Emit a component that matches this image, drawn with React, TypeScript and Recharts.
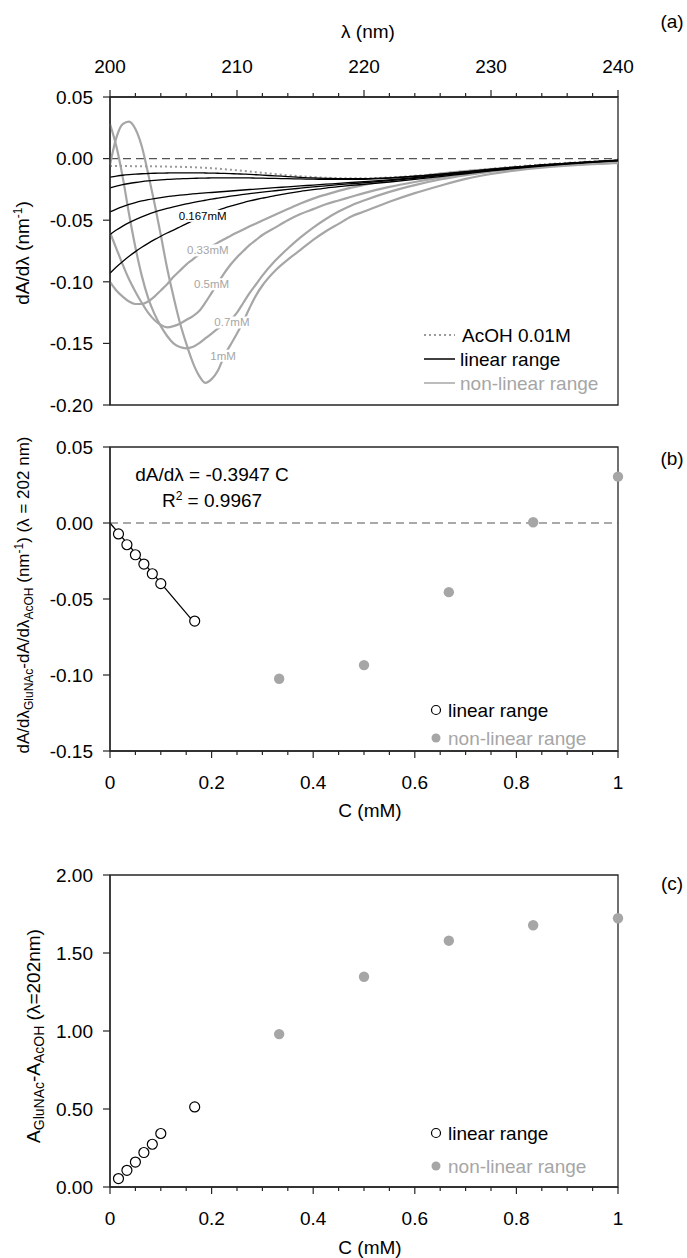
import React from 'react';
import {
  ComposedChart,
  Line,
  Scatter,
  XAxis,
  YAxis,
  ReferenceLine,
  ReferenceArea,
  Legend,
  Label,
} from 'recharts';

const FONT = '"Liberation Sans", Arial, Helvetica, sans-serif';
const GREY = '#a6a6a6';
const AXIS = '#262626';

// ---------- Panel (a): first-derivative spectra ----------
const lambdaNm = [
  200, 200.5, 201, 201.5, 202, 202.5, 203, 203.5, 204, 204.5, 205, 205.5, 206, 206.5, 207, 207.5, 208,
  208.5, 209, 209.5, 210, 210.5, 211, 211.5, 212, 213, 214, 215, 216, 217, 218, 219, 220, 222, 224, 226,
  228, 230, 232, 234, 236, 238, 240,
];
const acoh = [
  -0.006, -0.006, -0.0061, -0.0061, -0.0062, -0.0062, -0.0063, -0.0063, -0.0064, -0.0065, -0.0066, -0.0067,
  -0.0068, -0.007, -0.0072, -0.0075, -0.0078, -0.0082, -0.0086, -0.009, -0.0095, -0.01, -0.0105, -0.011,
  -0.0115, -0.0125, -0.0135, -0.0143, -0.015, -0.0155, -0.0158, -0.016, -0.016, -0.0153, -0.014, -0.0122,
  -0.0102, -0.0082, -0.0064, -0.0048, -0.0034, -0.0022, -0.0012,
];
const lin1 = [
  -0.015, -0.0142, -0.0135, -0.013, -0.0126, -0.0123, -0.0121, -0.0119, -0.0118, -0.0117, -0.0116, -0.0116,
  -0.0116, -0.0116, -0.0116, -0.0117, -0.0118, -0.0119, -0.012, -0.0122, -0.0124, -0.0126, -0.0128, -0.0131,
  -0.0134, -0.014, -0.0146, -0.0152, -0.0157, -0.016, -0.0162, -0.0163, -0.0163, -0.0156, -0.0143, -0.0126,
  -0.0106, -0.0086, -0.0068, -0.0051, -0.0037, -0.0024, -0.0013,
];
const lin2 = [
  -0.0238, -0.0224, -0.0212, -0.0202, -0.0194, -0.0187, -0.0181, -0.0176, -0.0172, -0.0169, -0.0166, -0.0164,
  -0.0162, -0.016, -0.0159, -0.0158, -0.0157, -0.0156, -0.0156, -0.0156, -0.0156, -0.0156, -0.0157, -0.0158,
  -0.0159, -0.0161, -0.0163, -0.0165, -0.0167, -0.0168, -0.0169, -0.0169, -0.0168, -0.0159, -0.0145, -0.0128,
  -0.0108, -0.0088, -0.0069, -0.0052, -0.0038, -0.0025, -0.0013,
];
const lin3 = [
  -0.0433, -0.041, -0.039, -0.0372, -0.0357, -0.0344, -0.0333, -0.0324, -0.0316, -0.0309, -0.0303, -0.0297,
  -0.0292, -0.0287, -0.0283, -0.0279, -0.0275, -0.0271, -0.0267, -0.0263, -0.0259, -0.0255, -0.0251, -0.0247,
  -0.0243, -0.0236, -0.0229, -0.0222, -0.0215, -0.0208, -0.0201, -0.0194, -0.0187, -0.0172, -0.0154, -0.0134,
  -0.0113, -0.0092, -0.0072, -0.0055, -0.004, -0.0027, -0.0015,
];
const lin4 = [
  -0.0616, -0.058, -0.0548, -0.052, -0.0495, -0.0473, -0.0453, -0.0435, -0.0419, -0.0404, -0.0391, -0.0379,
  -0.0368, -0.0357, -0.0347, -0.0338, -0.0329, -0.0321, -0.0313, -0.0305, -0.0298, -0.0291, -0.0284, -0.0278,
  -0.0272, -0.0261, -0.025, -0.024, -0.023, -0.0221, -0.0212, -0.0204, -0.0196, -0.0179, -0.016, -0.0139,
  -0.0117, -0.0095, -0.0075, -0.0057, -0.0041, -0.0028, -0.0016,
];
const lin167 = [
  -0.093, -0.088, -0.0835, -0.0793, -0.0755, -0.072, -0.0688, -0.0658, -0.063, -0.0604, -0.058, -0.0555,
  -0.053, -0.0505, -0.0482, -0.046, -0.044, -0.042, -0.0402, -0.0386, -0.0371, -0.0357, -0.0344, -0.0332,
  -0.0321, -0.03, -0.0282, -0.0266, -0.0252, -0.0239, -0.0228, -0.0218, -0.0209, -0.019, -0.0169, -0.0146,
  -0.0123, -0.01, -0.0079, -0.006, -0.0044, -0.003, -0.0018,
];
const non033 = [
  -0.1, -0.107, -0.112, -0.116, -0.118, -0.118, -0.116, -0.112, -0.107, -0.102, -0.096, -0.091, -0.086, -0.082,
  -0.078, -0.0742, -0.0711, -0.0682, -0.0655, -0.0627, -0.06, -0.0575, -0.055, -0.0526, -0.0503, -0.0456,
  -0.041, -0.0365, -0.0325, -0.0292, -0.0262, -0.0236, -0.0213, -0.0175, -0.0146, -0.0121, -0.0101, -0.0085,
  -0.007, -0.0057, -0.0046, -0.0037, -0.003,
];
const non05 = [
  -0.06, -0.073, -0.086, -0.098, -0.108, -0.117, -0.125, -0.131, -0.135, -0.137, -0.136, -0.134, -0.131, -0.128,
  -0.124, -0.117, -0.109, -0.101, -0.093, -0.086, -0.08, -0.075, -0.07, -0.066, -0.062, -0.056, -0.05, -0.045,
  -0.041, -0.037, -0.034, -0.031, -0.028, -0.023, -0.019, -0.0155, -0.0125, -0.01, -0.008, -0.0064, -0.0051,
  -0.0041, -0.0033,
];
const non07 = [
  0.028, 0.01, -0.015, -0.045, -0.072, -0.095, -0.113, -0.126, -0.136, -0.144, -0.15, -0.153, -0.154, -0.153,
  -0.15, -0.146, -0.142, -0.138, -0.135, -0.131, -0.125, -0.117, -0.109, -0.102, -0.095, -0.083, -0.073, -0.064,
  -0.056, -0.049, -0.043, -0.038, -0.034, -0.027, -0.0215, -0.017, -0.0135, -0.0105, -0.0083, -0.0066, -0.0052,
  -0.0042, -0.0034,
];
const non1 = [
  -0.005, 0.017, 0.028, 0.03, 0.024, 0.01, -0.012, -0.036, -0.062, -0.089, -0.112, -0.133, -0.15, -0.165, -0.176,
  -0.182, -0.179, -0.172, -0.16, -0.151, -0.142, -0.132, -0.121, -0.111, -0.103, -0.091, -0.082, -0.074, -0.066,
  -0.059, -0.053, -0.047, -0.043, -0.035, -0.028, -0.022, -0.0165, -0.0125, -0.0095, -0.0073, -0.0057, -0.0045,
  -0.0036,
];

const labelLambda = [207.3, 207.7, 208.0, 209.6, 208.9];
const labelValue = [-0.0465, -0.0745, -0.102, -0.133, -0.16];
const labelText = ['0.167mM', '0.33mM', '0.5mM', '0.7mM', '1mM'];
const labelRange = ['linear', 'non-linear', 'non-linear', 'non-linear', 'non-linear'];

const lambdaTicks = [200, 202, 204, 206, 208, 210, 212, 214, 216, 218, 220, 222, 224, 226, 228, 230, 232, 234, 236, 238, 240];
const derivTicksA = [-0.2, -0.15, -0.1, -0.05, 0, 0.05];

// ---------- Panel (b): derivative at 202 nm vs concentration ----------
const concLinear = [0.0167, 0.0333, 0.05, 0.0667, 0.0833, 0.1, 0.1667];
const slopeLinear = [-0.0072, -0.0143, -0.0209, -0.027, -0.0334, -0.0399, -0.0645];
const concNonLinear = [0.333, 0.5, 0.667, 0.833, 1.0];
const slopeNonLinear = [-0.1025, -0.0935, -0.0455, 0.0005, 0.0305];
const fitConc = [0, 0.1667];
const fitSlope = [0, -0.0658];
const derivTicksB = [-0.15, -0.1, -0.05, 0, 0.05];

// ---------- Panel (c): absorbance at 202 nm vs concentration ----------
const absLinear = [0.054, 0.107, 0.16, 0.221, 0.274, 0.343, 0.513];
const absNonLinear = [0.98, 1.348, 1.579, 1.678, 1.723];
const absTicks = [0, 0.5, 1, 1.5, 2];

const concTicks = [0, 0.05, 0.1, 0.15, 0.2, 0.25, 0.3, 0.35, 0.4, 0.45, 0.5, 0.55, 0.6, 0.65, 0.7, 0.75, 0.8, 0.85, 0.9, 0.95, 1];

// ---------- derived tables ----------
const spectra = lambdaNm.map((x, i) => ({
  x,
  acoh: acoh[i],
  lin1: lin1[i],
  lin2: lin2[i],
  lin3: lin3[i],
  lin4: lin4[i],
  lin167: lin167[i],
  non033: non033[i],
  non05: non05[i],
  non07: non07[i],
  non1: non1[i],
}));
const curveLabels = labelLambda.map((x, i) => ({ x, y: labelValue[i], text: labelText[i], range: labelRange[i] }));
const bLinear = concLinear.map((x, i) => ({ x, y: slopeLinear[i] }));
const bNonLinear = concNonLinear.map((x, i) => ({ x, y: slopeNonLinear[i] }));
const bFit = fitConc.map((x, i) => ({ x, y: fitSlope[i] }));
const cLinear = concLinear.map((x, i) => ({ x, y: absLinear[i] }));
const cNonLinear = concNonLinear.map((x, i) => ({ x, y: absNonLinear[i] }));

// ---------- helpers ----------
const makeTick =
  (orient: 'top' | 'bottom', isMajor: (v: number) => boolean, fmt: (v: number) => string) =>
  (props: any) => {
    const { x, y, payload } = props;
    const v = payload.value;
    const major = isMajor(v);
    const s = orient === 'top' ? -1 : 1;
    const len = major ? 7 : 4;
    return (
      <g>
        <line x1={x} x2={x} y1={y} y2={y + s * len} stroke={AXIS} strokeWidth={1.2} />
        {major && (
          <text x={x} y={y + s * 31} dy="0.35em" textAnchor="middle" fontSize={19} fontFamily={FONT} fill="#000">
            {fmt(v)}
          </text>
        )}
      </g>
    );
  };

const TopLambdaTick = makeTick('top', (v) => v % 10 === 0, (v) => String(v));
const BottomConcTick = makeTick(
  'bottom',
  (v) => Math.abs(v * 5 - Math.round(v * 5)) < 1e-6,
  (v) => String(Math.round(v * 10) / 10)
);

const yTickStyle = { fill: '#000', fontSize: 19, fontFamily: FONT };
const axisLineStyle = { stroke: AXIS, strokeWidth: 1.3 };

const OpenCircle = (props: any) => (
  <circle cx={props.cx} cy={props.cy} r={5} fill="#fff" stroke="#000" strokeWidth={1.2} />
);
const GreyDot = (props: any) => <circle cx={props.cx} cy={props.cy} r={5.2} fill={GREY} stroke="none" />;

const CurveLabel = (props: any) => {
  const { cx, cy, payload } = props;
  const w = payload.text.length * 6.7 + 2;
  return (
    <g>
      <rect x={cx - w / 2} y={cy - 6} width={w} height={12} fill="#fff" />
      <text
        x={cx}
        y={cy}
        dy="0.35em"
        textAnchor="middle"
        fontSize={11.5}
        fontFamily={FONT}
        fill={payload.range === 'linear' ? '#000' : GREY}
      >
        {payload.text}
      </text>
    </g>
  );
};

const txt = { fontFamily: FONT, fill: '#000' } as const;

const LegendA = () => (
  <svg width={200} height={80} style={{ overflow: 'visible', display: 'block' }}>
    <line x1={6} x2={37} y1={15} y2={15} stroke="#9a9a9a" strokeWidth={2} strokeDasharray="2 3" />
    <text x={44} y={15} dy="0.35em" fontSize={19} {...txt}>AcOH 0.01M</text>
    <line x1={6} x2={37} y1={39} y2={39} stroke="#000" strokeWidth={1.5} />
    <text x={42} y={39} dy="0.35em" fontSize={19} {...txt}>linear range</text>
    <line x1={6} x2={37} y1={63} y2={63} stroke={GREY} strokeWidth={1.5} />
    <text x={42} y={63} dy="0.35em" fontSize={19} fontFamily={FONT} fill={GREY}>non-linear range</text>
  </svg>
);

const makeLegendBC = (gap: number) => () => (
  <svg width={200} height={70} style={{ overflow: 'visible', display: 'block' }}>
    <circle cx={10} cy={20} r={4.5} fill="#fff" stroke="#000" strokeWidth={1.2} />
    <text x={22} y={20} dy="0.35em" fontSize={19} {...txt}>linear range</text>
    <circle cx={10} cy={20 + gap} r={4.5} fill={GREY} />
    <text x={22} y={20 + gap} dy="0.35em" fontSize={19} fontFamily={FONT} fill={GREY}>non-linear range</text>
  </svg>
);
const LegendB = makeLegendBC(28);
const LegendC = makeLegendBC(33);

const legendProps = { layout: 'horizontal', verticalAlign: 'middle', align: 'center' } as const;

export default function App() {
  return (
    <div style={{ position: 'absolute', left: 0, top: 0, width: 687, height: 1258, background: '#fff' }}>
      {/* Panel (a) */}
      <div style={{ position: 'absolute', left: 0, top: 0, width: 687, height: 420 }}>
        <ComposedChart width={687} height={420} data={spectra} margin={{ top: 47, right: 69, bottom: 15, left: 0 }}>
          <XAxis
            type="number"
            dataKey="x"
            orientation="top"
            domain={[200, 240]}
            ticks={lambdaTicks}
            interval={0}
            height={50}
            tickLine={false}
            tickSize={0}
            tickMargin={0}
            axisLine={axisLineStyle}
            tick={TopLambdaTick}
          >
            <Label
              content={() => (
                <text x={368} y={31} dy="0.35em" textAnchor="middle" fontSize={19} {...txt}>
                  λ (nm)
                </text>
              )}
            />
          </XAxis>
          <YAxis
            type="number"
            domain={[-0.2, 0.05]}
            ticks={derivTicksA}
            interval={0}
            width={110}
            tickSize={7}
            tickMargin={10}
            tick={yTickStyle}
            tickLine={{ stroke: AXIS, strokeWidth: 1.2 }}
            axisLine={axisLineStyle}
            tickFormatter={(v: number) => v.toFixed(2)}
          >
            <Label
              content={() => (
                <text transform="translate(22,253) rotate(-90)" textAnchor="middle" fontSize={19} dy="0.35em" {...txt}>
                  dA/dλ (nm
                  <tspan dy={-7} fontSize={12}>
                    -1
                  </tspan>
                  <tspan dy={7}>)</tspan>
                </text>
              )}
            />
          </YAxis>
          <ReferenceArea x1={200} x2={240} y1={-0.2} y2={0.05} fill="none" fillOpacity={0} stroke={AXIS} strokeWidth={1.3} />
          <ReferenceLine y={0} stroke="#555" strokeDasharray="8 5" strokeWidth={1.2} />
          <Line dataKey="non033" type="monotone" stroke={GREY} strokeWidth={2.2} dot={false} isAnimationActive={false} />
          <Line dataKey="non05" type="monotone" stroke={GREY} strokeWidth={2.2} dot={false} isAnimationActive={false} />
          <Line dataKey="non07" type="monotone" stroke={GREY} strokeWidth={2.2} dot={false} isAnimationActive={false} />
          <Line dataKey="non1" type="monotone" stroke={GREY} strokeWidth={2.2} dot={false} isAnimationActive={false} />
          <Line dataKey="acoh" type="monotone" stroke="#9a9a9a" strokeWidth={2} strokeDasharray="2 3" dot={false} isAnimationActive={false} />
          <Line dataKey="lin1" type="monotone" stroke="#000" strokeWidth={1.3} dot={false} isAnimationActive={false} />
          <Line dataKey="lin2" type="monotone" stroke="#000" strokeWidth={1.3} dot={false} isAnimationActive={false} />
          <Line dataKey="lin3" type="monotone" stroke="#000" strokeWidth={1.3} dot={false} isAnimationActive={false} />
          <Line dataKey="lin4" type="monotone" stroke="#000" strokeWidth={1.3} dot={false} isAnimationActive={false} />
          <Line dataKey="lin167" type="monotone" stroke="#000" strokeWidth={1.3} dot={false} isAnimationActive={false} />
          <Scatter data={curveLabels} dataKey="y" shape={CurveLabel} isAnimationActive={false} />
          <Legend {...legendProps} content={LegendA} wrapperStyle={{ position: 'absolute', left: 418, top: 320, width: 200, height: 80 }} />
        </ComposedChart>
        <svg width={687} height={420} style={{ position: 'absolute', left: 0, top: 0, pointerEvents: 'none' }}>
          <text x={672} y={21} dy="0.35em" textAnchor="middle" fontSize={19} {...txt}>(a)</text>
        </svg>
      </div>

      {/* Panel (b) */}
      <div style={{ position: 'absolute', left: 0, top: 425, width: 687, height: 420 }}>
        <ComposedChart width={687} height={420} margin={{ top: 22, right: 69, bottom: 34, left: 0 }}>
          <XAxis
            type="number"
            dataKey="x"
            domain={[0, 1]}
            ticks={concTicks}
            interval={0}
            height={60}
            tickLine={false}
            tickSize={0}
            tickMargin={0}
            axisLine={axisLineStyle}
            tick={BottomConcTick}
          >
            <Label
              content={() => (
                <text x={370} y={385} dy="0.35em" textAnchor="middle" fontSize={19} {...txt}>
                  C (mM)
                </text>
              )}
            />
          </XAxis>
          <YAxis
            type="number"
            domain={[-0.15, 0.05]}
            ticks={derivTicksB}
            interval={0}
            width={110}
            tickSize={7}
            tickMargin={10}
            tick={yTickStyle}
            tickLine={{ stroke: AXIS, strokeWidth: 1.2 }}
            axisLine={axisLineStyle}
            tickFormatter={(v: number) => v.toFixed(2)}
          >
            <Label
              content={() => (
                <text transform="translate(23,170) rotate(-90)" textAnchor="middle" fontSize={17} dy="0.35em" {...txt}>
                  dA/dλ
                  <tspan dy={4} fontSize={12}>GluNAc</tspan>
                  <tspan dy={-4}>-dA/dλ</tspan>
                  <tspan dy={4} fontSize={12}>AcOH</tspan>
                  <tspan dy={-4}>{' (nm'}</tspan>
                  <tspan dy={-6} fontSize={12}>-1</tspan>
                  <tspan dy={6}>{') (λ = 202 nm)'}</tspan>
                </text>
              )}
            />
          </YAxis>
          <ReferenceArea x1={0} x2={1} y1={-0.15} y2={0.05} fill="none" fillOpacity={0} stroke={AXIS} strokeWidth={1.3} />
          <ReferenceLine y={0} stroke="#555" strokeDasharray="8 5" strokeWidth={1.2} />
          <Line data={bFit} dataKey="y" type="linear" stroke="#000" strokeWidth={1.2} dot={false} isAnimationActive={false} />
          <Scatter data={bLinear} dataKey="y" shape={OpenCircle} isAnimationActive={false} />
          <Scatter data={bNonLinear} dataKey="y" shape={GreyDot} isAnimationActive={false} />
          <Legend {...legendProps} content={LegendB} wrapperStyle={{ position: 'absolute', left: 426, top: 265, width: 200, height: 70 }} />
        </ComposedChart>
        <svg width={687} height={420} style={{ position: 'absolute', left: 0, top: 0, pointerEvents: 'none' }}>
          <text x={672} y={33} dy="0.35em" textAnchor="middle" fontSize={19} {...txt}>(b)</text>
          <text x={212} y={49} dy="0.35em" textAnchor="middle" fontSize={19} {...txt}>dA/dλ = -0.3947 C</text>
          <text x={212} y={75} dy="0.35em" textAnchor="middle" fontSize={19} {...txt}>
            R<tspan dy={-7} fontSize={12}>2</tspan>
            <tspan dy={7}>{' = 0.9967'}</tspan>
          </text>
        </svg>
      </div>

      {/* Panel (c) */}
      <div style={{ position: 'absolute', left: 0, top: 850, width: 687, height: 408 }}>
        <ComposedChart width={687} height={408} margin={{ top: 25, right: 69, bottom: 21, left: 0 }}>
          <XAxis
            type="number"
            dataKey="x"
            domain={[0, 1]}
            ticks={concTicks}
            interval={0}
            height={50}
            tickLine={false}
            tickSize={0}
            tickMargin={0}
            axisLine={axisLineStyle}
            tick={BottomConcTick}
          >
            <Label
              content={() => (
                <text x={370} y={397} dy="0.35em" textAnchor="middle" fontSize={19} {...txt}>
                  C (mM)
                </text>
              )}
            />
          </XAxis>
          <YAxis
            type="number"
            domain={[0, 2]}
            ticks={absTicks}
            interval={0}
            width={110}
            tickSize={7}
            tickMargin={10}
            tick={yTickStyle}
            tickLine={{ stroke: AXIS, strokeWidth: 1.2 }}
            axisLine={axisLineStyle}
            tickFormatter={(v: number) => v.toFixed(2)}
          >
            <Label
              content={() => (
                <text transform="translate(33,186) rotate(-90)" textAnchor="middle" fontSize={19} dy="0.35em" {...txt}>
                  A
                  <tspan dy={4} fontSize={14}>GluNAc</tspan>
                  <tspan dy={-4}>-A</tspan>
                  <tspan dy={4} fontSize={14}>AcOH</tspan>
                  <tspan dy={-4}>{' (λ=202nm)'}</tspan>
                </text>
              )}
            />
          </YAxis>
          <ReferenceArea x1={0} x2={1} y1={0} y2={2} fill="none" fillOpacity={0} stroke={AXIS} strokeWidth={1.3} />
          <Scatter data={cLinear} dataKey="y" shape={OpenCircle} isAnimationActive={false} />
          <Scatter data={cNonLinear} dataKey="y" shape={GreyDot} isAnimationActive={false} />
          <Legend {...legendProps} content={LegendC} wrapperStyle={{ position: 'absolute', left: 426, top: 263, width: 200, height: 70 }} />
        </ComposedChart>
        <svg width={687} height={408} style={{ position: 'absolute', left: 0, top: 0, pointerEvents: 'none' }}>
          <text x={672} y={33} dy="0.35em" textAnchor="middle" fontSize={19} {...txt}>(c)</text>
        </svg>
      </div>
    </div>
  );
}
